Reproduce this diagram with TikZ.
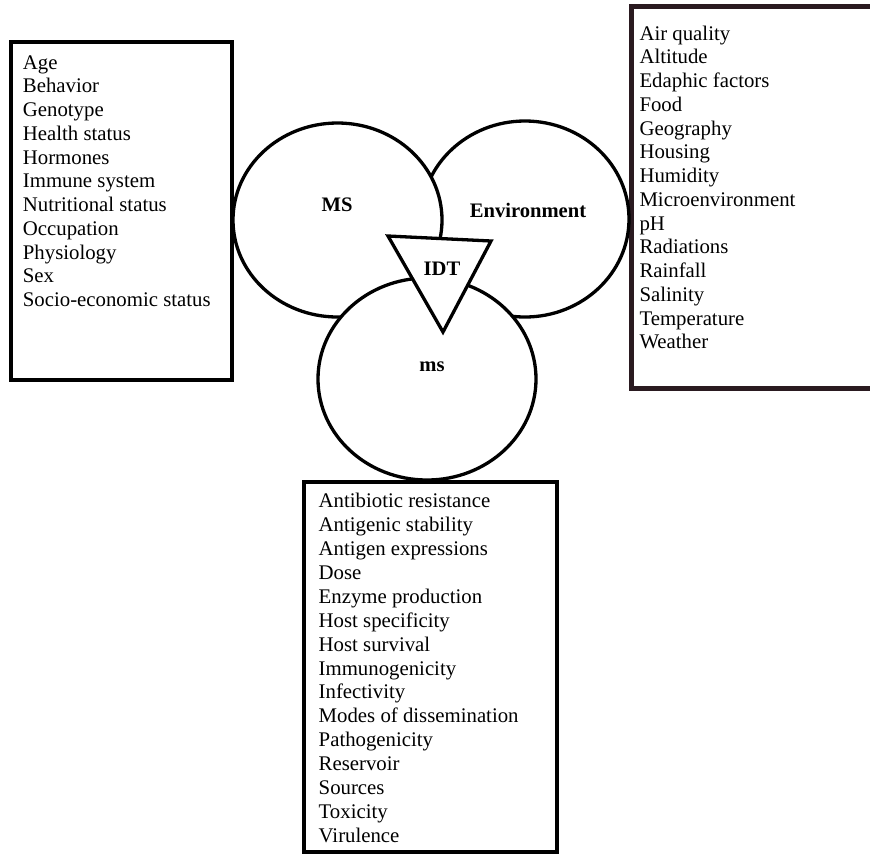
\documentclass[tikz,border=0pt]{standalone}
\usepackage{fontspec}
\setmainfont{Liberation Serif}
\usetikzlibrary{shapes.geometric}
\definecolor{boxmaroon}{HTML}{2A1A20}
\tikzset{
  item/.style={anchor=base west,inner sep=0pt,font=\fontsize{20.8}{24}\selectfont},
  lab/.style={anchor=base,inner sep=0pt,font=\fontsize{20.6}{24}\selectfont\bfseries},
  circ/.style={ellipse,draw=black,fill=white,line width=3.3pt,inner sep=0pt},
  listbox/.style={draw=black,line width=4pt},
}
\begin{document}
\begin{tikzpicture}[x=1pt,y=-1pt]
\useasboundingbox (0,0) rectangle (870,855);
\clip (0,0) rectangle (870,855);
\fill[white] (0,0) rectangle (870,855);
% boxes
\draw[listbox] (11,42) rectangle (232,380);
\draw[listbox,draw=boxmaroon,line width=5pt] (631,6.5) rectangle (900,388);
\draw[listbox] (303.5,482) rectangle (556.5,852);
% circles
\node[circ,minimum width=208pt,minimum height=196pt] (env) at (525,219) {};
\node[circ,minimum width=209pt,minimum height=194pt] (MS) at (337.5,220) {};
\node[circ,minimum width=218pt,minimum height=202pt] (ms) at (427,379) {};
% triangle
\coordinate (t1) at (388,236);
\coordinate (t2) at (491,241);
\coordinate (t3) at (443,332);
\draw[line width=3.3pt,fill=white,line join=miter] (t1) -- (t2) -- (t3) -- cycle;
% labels
\node[lab] (lMS) at (337,211) {MS};
\node[lab] (lEnv) at (528,217) {Environment};
\node[lab] (lIDT) at (442,275) {IDT};
\node[lab] (lms) at (432,371) {ms};
% left list
\foreach \t [count=\i from 0] in {Age,Behavior,Genotype,Health status,Hormones,Immune system,Nutritional status,Occupation,Physiology,Sex,Socio-economic status}
  \node[item] (L\i) at (22.7,69+23.75*\i) {\t};
% right list
\foreach \t [count=\i from 0] in {Air quality,Altitude,Edaphic factors,Food,Geography,Housing,Humidity,Microenvironment,pH,Radiations,Rainfall,Salinity,Temperature,Weather}
  \node[item] (R\i) at (639.3,40+23.75*\i) {\t};
% bottom list
\foreach \t [count=\i from 0] in {Antibiotic resistance,Antigenic stability,Antigen expressions,Dose,Enzyme production,Host specificity,Host survival,Immunogenicity,Infectivity,Modes of dissemination,Pathogenicity,Reservoir,Sources,Toxicity,Virulence}
  \node[item] (B\i) at (318.5,507.7+23.9*\i) {\t};
\end{tikzpicture}
\end{document}
